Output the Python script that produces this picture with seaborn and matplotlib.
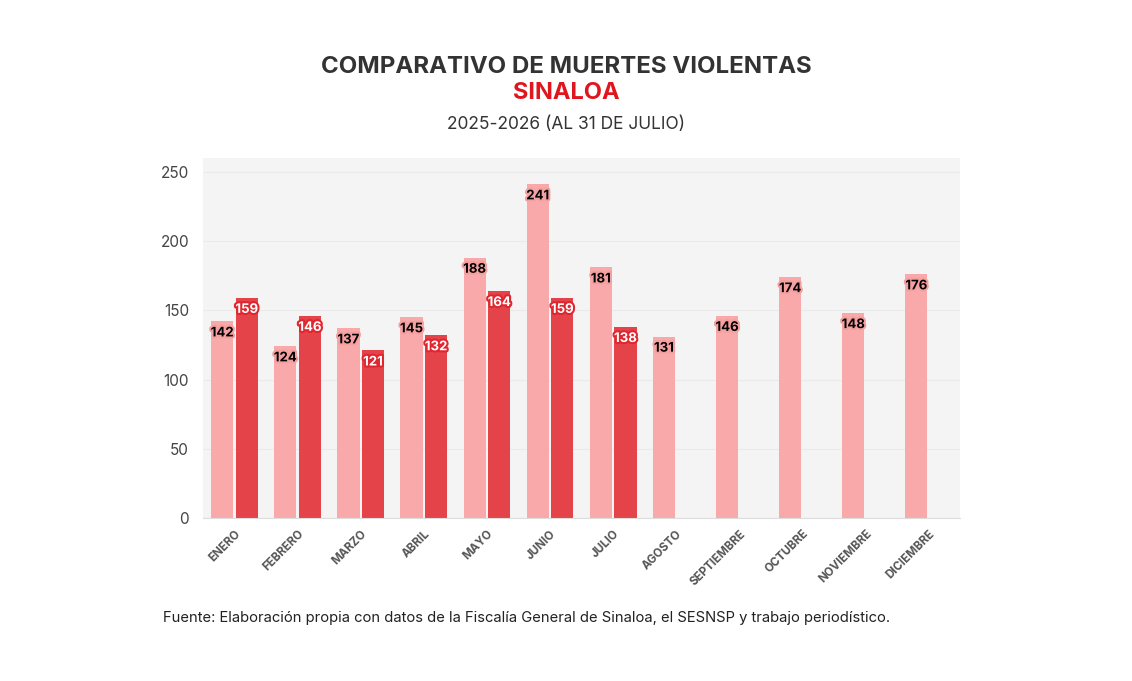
import numpy as np
import pandas as pd
import seaborn as sns
import matplotlib.pyplot as plt
import matplotlib.patheffects as pe

# Data
meses = ['ENERO', 'FEBRERO', 'MARZO', 'ABRIL', 'MAYO', 'JUNIO', 'JULIO',
         'AGOSTO', 'SEPTIEMBRE', 'OCTUBRE', 'NOVIEMBRE', 'DICIEMBRE']
muertes_2025 = [142, 124, 137, 145, 188, 241, 181, 131, 146, 174, 148, 176]
muertes_2026 = [159, 146, 121, 132, 164, 159, 138, np.nan, np.nan, np.nan, np.nan, np.nan]
anios = ['2025', '2026']

color_2025 = '#F9A9A9'
color_2026 = '#E4434A'

# Long format table for seaborn
df = pd.DataFrame({
    'mes': meses * 2,
    'anio': [anios[0]] * len(meses) + [anios[1]] * len(meses),
    'valor': muertes_2025 + muertes_2026,
})

sns.set_style('white')
plt.rcParams['font.family'] = ['Inter', 'DejaVu Sans']

fig = plt.figure(figsize=(11.32, 6.81), dpi=100)
ax = fig.add_axes([0.1793, 0.2394, 0.669, 0.5286])

sns.barplot(data=df, x='mes', y='valor', hue='anio', order=meses, hue_order=anios,
            palette=[color_2025, color_2026], width=0.78, gap=0.1,
            saturation=1, errorbar=None, legend=False, linewidth=0, ax=ax)

ax.set_facecolor('#F4F4F4')
ax.set_ylim(0, 260)
ax.set_xlim(-0.5, 11.5)
ax.set_yticks([0, 50, 100, 150, 200, 250])
ax.yaxis.grid(True, color='#EAEAEA', linewidth=0.8)
ax.set_axisbelow(True)
for s in ['top', 'right', 'left']:
    ax.spines[s].set_visible(False)
ax.spines['bottom'].set_color('#DDDDDD')
ax.set_xlabel('')
ax.set_ylabel('')
ax.tick_params(axis='both', length=0)
ax.tick_params(axis='y', labelsize=11, labelcolor='#444444', pad=10)
ax.set_xticks(range(len(meses)))
ax.set_xticklabels(meses, rotation=45, ha='right', rotation_mode='anchor',
                   fontsize=8.3, fontweight='bold', color='#555555')
ax.tick_params(axis='x', pad=7)

# Value labels just under the top of each bar, with a halo in the bar colour
label_styles = [
    dict(color='black', path_effects=[pe.withStroke(linewidth=3, foreground='#F5A0A0')]),
    dict(color='white', path_effects=[pe.withStroke(linewidth=3, foreground='#E0262E')]),
]
for cont, style in zip(ax.containers, label_styles):
    labels = ['' if np.isnan(v) else f'{int(v)}' for v in cont.datavalues]
    ax.bar_label(cont, labels=labels, padding=-13, fontsize=9.5, fontweight='bold', **style)

# Titles and source
fig.text(0.5, 0.902, 'COMPARATIVO DE MUERTES VIOLENTAS', ha='center', va='center',
         fontsize=17.3, fontweight='bold', color='#333333')
fig.text(0.5, 0.863, 'SINALOA', ha='center', va='center',
         fontsize=17.0, fontweight='bold', color='#E0161E')
fig.text(0.5, 0.817, '2025-2026 (AL 31 DE JULIO)', ha='center', va='center',
         fontsize=12.5, color='#333333')
fig.text(0.144, 0.093,
         'Fuente: Elaboración propia con datos de la Fiscalía General de Sinaloa, el SESNSP y trabajo periodístico.',
         ha='left', va='center', fontsize=10.65, color='#222222')

fig.savefig('out.png', dpi=100, facecolor='white')
